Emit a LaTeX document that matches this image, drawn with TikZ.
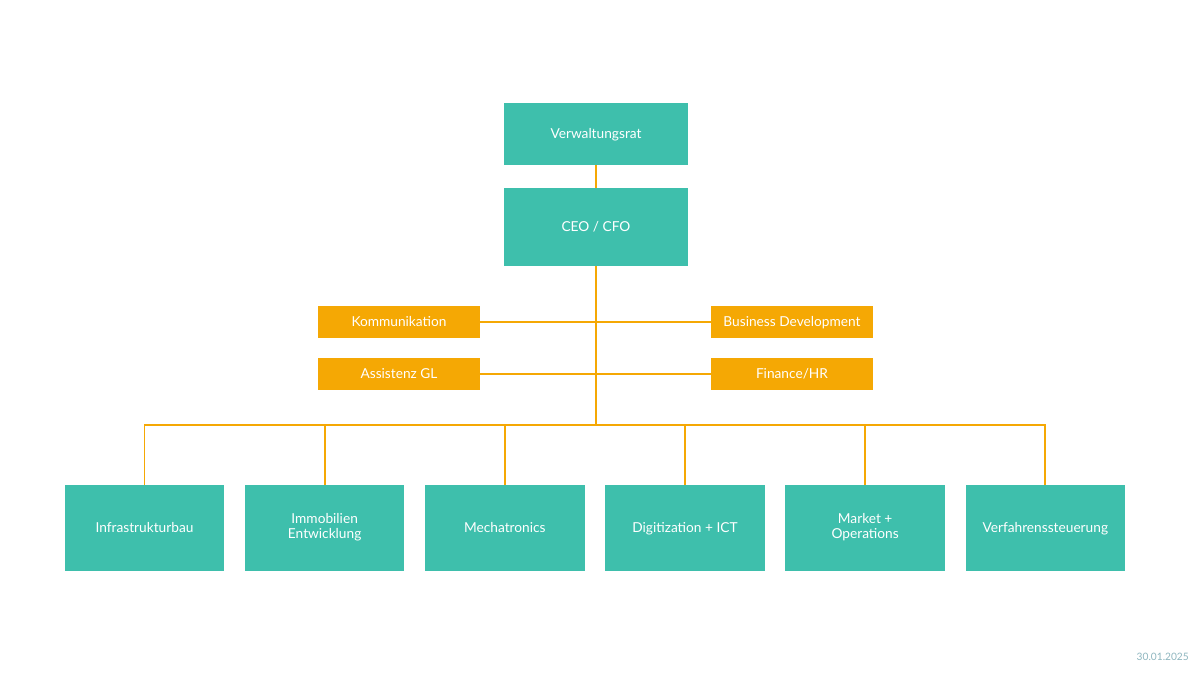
\documentclass[tikz,border=0pt]{standalone}
\usepackage{fontspec}
\setsansfont{Lato}
\usetikzlibrary{positioning}
\definecolor{unitteal}{HTML}{3EBFAC}
\definecolor{staffgold}{HTML}{F5A804}
\definecolor{dategray}{HTML}{8DB5BE}

\begin{document}
\begin{tikzpicture}[x=0.02cm,y=-0.02cm,node distance=0.414cm,
    link/.style={draw=staffgold,line width=1.1pt},
    box/.style={inner sep=0pt,outer sep=0pt,text=white,align=center,
      font=\sffamily\fontsize{7.8}{8.4}\selectfont,
      execute at begin node={\rule[-0.25em]{0pt}{1.22em}},
      execute at end node={\rule[-0.25em]{0pt}{1.22em}}},
    board/.style={box,fill=unitteal,minimum width=3.7cm,minimum height=1.24cm},
    lead/.style={box,fill=unitteal,minimum width=3.7cm,minimum height=1.56cm},
    staff/.style={box,fill=staffgold,minimum width=3.24cm,minimum height=0.66cm},
    unit/.style={box,fill=unitteal,minimum width=3.19cm,minimum height=1.72cm}]

\useasboundingbox (0,0) rectangle (1200,675);

\node[board] (vr) at (596,134) {Verwaltungsrat};
\node[lead] (ceo) [below=0.46cm of vr] {CEO / CFO};

\node[staff] (kom) at (399,322) {Kommunikation};
\node[staff] (bd) at (792,322) {Business Development};
\node[staff] (ass) at (399,374) {Assistenz GL};
\node[staff] (fin) at (792,374) {Finance/HR};

\node[unit] (infra) at (144.5,528) {Infrastrukturbau};
\node[unit] (immo) [right=of infra] {Immobilien\\Entwicklung};
\node[unit] (mech) [right=of immo] {Mechatronics};
\node[unit] (dig) [right=of mech] {Digitization + ICT};
\node[unit] (mkt) [right=of dig] {Market +\\Operations};
\node[unit] (verf) [right=of mkt] {Verfahrenssteuerung};

\coordinate (bus) at (ceo.south |- 0,425);

\draw[link] (vr) -- (ceo);
\draw[link] (ceo) -- (bus);
\draw[link] (kom) -- (bd);
\draw[link] (ass) -- (fin);
\draw[link] (infra.north) |- (bus);
\draw[link] (verf.north) |- (bus);
\draw[link] (immo.north) -- (immo.north |- bus);
\draw[link] (mech.north) -- (mech.north |- bus);
\draw[link] (dig.north) -- (dig.north |- bus);
\draw[link] (mkt.north) -- (mkt.north |- bus);

\node[font=\sffamily\fontsize{5.8}{6.5}\selectfont,text=dategray,anchor=east] (date) at (1195,657) {30.01.2025};

\end{tikzpicture}
\end{document}
